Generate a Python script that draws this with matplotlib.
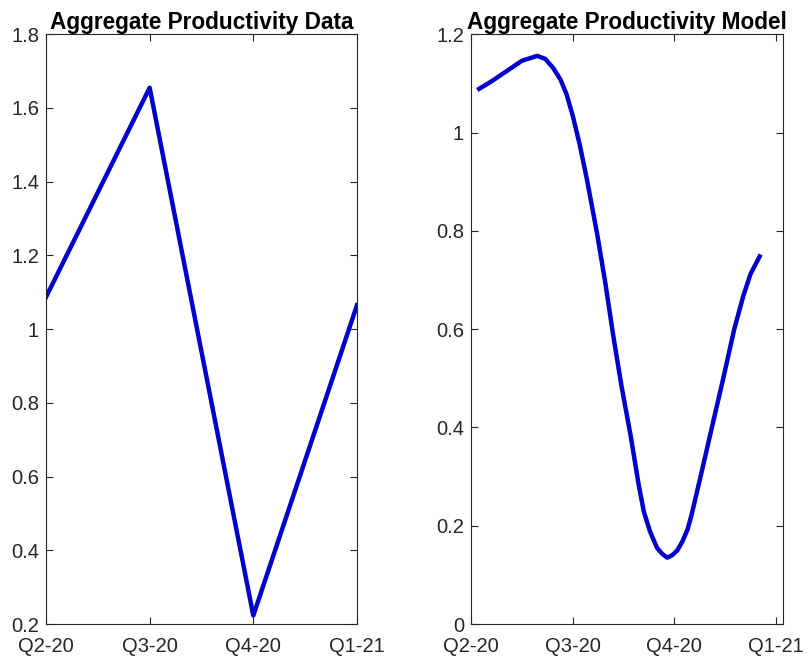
import numpy as np
import matplotlib.pyplot as plt

plt.rcParams['font.family'] = ['Liberation Sans', 'DejaVu Sans']

quarters = ['Q2-20', 'Q3-20', 'Q4-20', 'Q1-21']

# left panel: observed data, one value per quarter
data_x = [0, 1, 2, 3]
data_y = [1.087, 1.655, 0.223, 1.065]

# right panel: model curve
model_x = [0.08, 0.20, 0.35, 0.50, 0.65, 0.73, 0.81, 0.88, 0.94, 1.00, 1.07, 1.14, 1.24,
           1.32, 1.40, 1.48, 1.57, 1.65, 1.70, 1.76, 1.83, 1.88, 1.93, 1.98, 2.03, 2.08,
           2.13, 2.17, 2.27, 2.37, 2.48, 2.59, 2.68, 2.75, 2.84]
model_y = [1.089, 1.104, 1.125, 1.146, 1.156, 1.150, 1.131, 1.108, 1.078, 1.035, 0.975,
           0.905, 0.795, 0.696, 0.586, 0.485, 0.384, 0.283, 0.229, 0.189, 0.155, 0.143,
           0.135, 0.140, 0.150, 0.168, 0.192, 0.222, 0.310, 0.400, 0.498, 0.600, 0.668,
           0.712, 0.748]

line_color = '#0000CC'

fig = plt.figure(figsize=(8.1, 6.59), dpi=100)
ax1 = fig.add_axes([0.0568, 0.0531, 0.3839, 0.8949])
ax2 = fig.add_axes([0.5815, 0.0531, 0.3852, 0.8949])

ax1.plot(data_x, data_y, color=line_color, lw=3.2)
ax1.set_xlim(0, 3)
ax1.set_ylim(0.2, 1.8)
ax1.set_yticks([0.2, 0.4, 0.6, 0.8, 1.0, 1.2, 1.4, 1.6, 1.8])
ax1.set_yticklabels(['0.2', '0.4', '0.6', '0.8', '1', '1.2', '1.4', '1.6', '1.8'])
ax1.set_title('Aggregate Productivity Data', fontsize=16.3, fontweight='bold', pad=4)

ax2.plot(model_x, model_y, color=line_color, lw=3.2)
ax2.set_xlim(0, 3.07)
ax2.set_ylim(0, 1.2)
ax2.set_yticks([0, 0.2, 0.4, 0.6, 0.8, 1.0, 1.2])
ax2.set_yticklabels(['0', '0.2', '0.4', '0.6', '0.8', '1', '1.2'])
ax2.set_title('Aggregate Productivity Model', fontsize=16.3, fontweight='bold', pad=4)

for ax in [ax1, ax2]:
    ax.set_xticks([0, 1, 2, 3])
    ax.set_xticklabels(quarters)
    ax.tick_params(direction='in', top=True, right=True, length=5, width=0.8,
                   color='#262626', labelsize=14.5, labelcolor='#262626')
    ax.tick_params(axis='x', pad=9)
    ax.tick_params(axis='y', pad=5)
    for s in ax.spines.values():
        s.set_color('#262626')
        s.set_linewidth(0.8)

fig.savefig('out.png', dpi=100)
